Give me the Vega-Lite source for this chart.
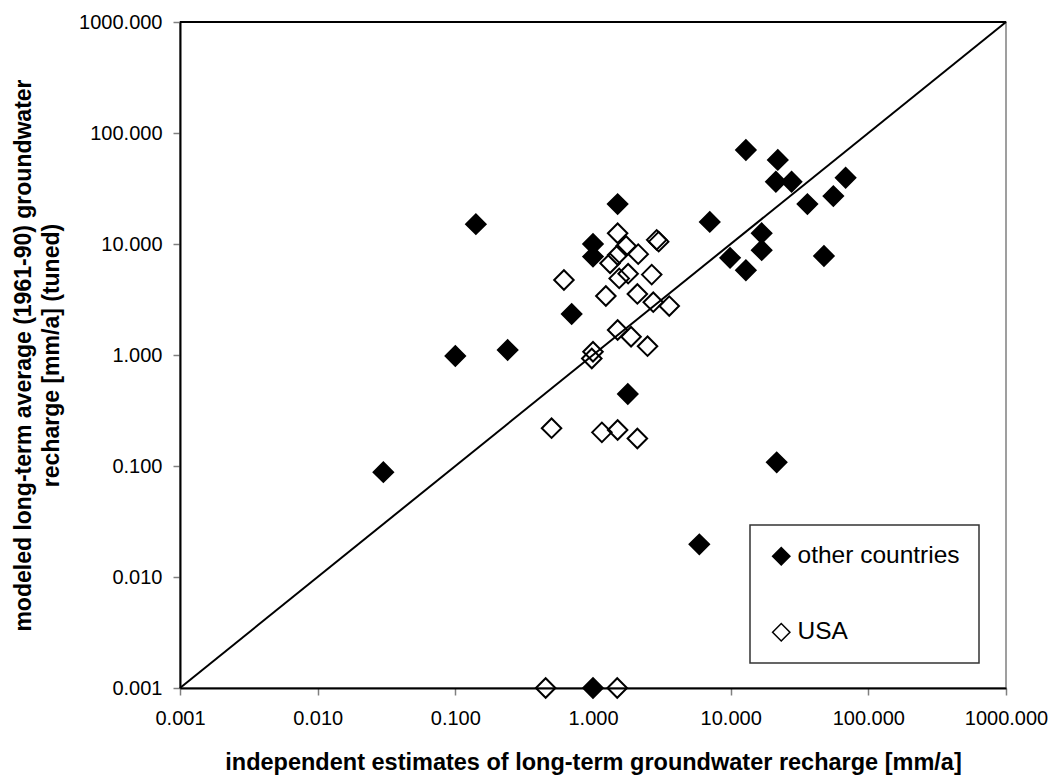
{
  "$schema": "https://vega.github.io/schema/vega-lite/v6.json",
  "width": 826,
  "height": 666,
  "autosize": {"type": "none"},
  "padding": {"left": 180, "top": 22, "right": 50, "bottom": 88},
  "background": "white",
  "config": {
    "font": "Liberation Sans",
    "view": {"stroke": "#808080", "strokeWidth": 1.5},
    "axis": {
      "grid": false,
      "domainColor": "black",
      "domainWidth": 2,
      "tickColor": "#808080",
      "tickWidth": 1.5,
      "tickSize": 7,
      "labelFlush": false,
      "labelOverlap": false,
      "labelFont": "Liberation Sans",
      "labelFontSize": 20,
      "labelColor": "black",
      "titleFont": "Liberation Sans",
      "titleFontSize": 23,
      "titleFontWeight": "bold",
      "titleColor": "black"
    },
    "legend": {
      "orient": "none",
      "legendX": 570,
      "legendY": 503,
      "strokeColor": "#333333",
      "strokeWidth": 1.5,
      "fillColor": "white",
      "padding": 19,
      "rowPadding": 51,
      "symbolType": "diamond",
      "symbolSize": 300,
      "symbolStrokeColor": "black",
      "symbolStrokeWidth": 1.5,
      "symbolOpacity": 1,
      "labelFont": "Liberation Sans",
      "labelFontSize": 24.5,
      "labelColor": "black",
      "labelLimit": 400,
      "labelOffset": 4
    }
  },
  "layer": [
    {
      "data": {
        "values": [
          {"x": 0.030, "y": 0.088, "group": "other countries"},
          {"x": 0.10, "y": 0.98, "group": "other countries"},
          {"x": 0.141, "y": 15.1, "group": "other countries"},
          {"x": 0.24, "y": 1.11, "group": "other countries"},
          {"x": 0.70, "y": 2.34, "group": "other countries"},
          {"x": 1.0, "y": 10.0, "group": "other countries"},
          {"x": 1.0, "y": 7.7, "group": "other countries"},
          {"x": 1.51, "y": 22.9, "group": "other countries"},
          {"x": 1.79, "y": 0.445, "group": "other countries"},
          {"x": 1.0, "y": 0.001, "group": "other countries"},
          {"x": 5.92, "y": 0.0197, "group": "other countries"},
          {"x": 7.05, "y": 15.8, "group": "other countries"},
          {"x": 9.9, "y": 7.5, "group": "other countries"},
          {"x": 12.9, "y": 70.3, "group": "other countries"},
          {"x": 12.9, "y": 5.8, "group": "other countries"},
          {"x": 16.8, "y": 12.5, "group": "other countries"},
          {"x": 16.8, "y": 8.8, "group": "other countries"},
          {"x": 21.3, "y": 36.4, "group": "other countries"},
          {"x": 22.0, "y": 57.2, "group": "other countries"},
          {"x": 21.6, "y": 0.108, "group": "other countries"},
          {"x": 27.7, "y": 36.4, "group": "other countries"},
          {"x": 36.1, "y": 22.9, "group": "other countries"},
          {"x": 47.6, "y": 7.8, "group": "other countries"},
          {"x": 55.7, "y": 27.0, "group": "other countries"},
          {"x": 68.4, "y": 39.5, "group": "other countries"},
          {"x": 0.453, "y": 0.001, "group": "USA"},
          {"x": 1.5, "y": 0.001, "group": "USA"},
          {"x": 0.50, "y": 0.219, "group": "USA"},
          {"x": 1.16, "y": 0.201, "group": "USA"},
          {"x": 1.51, "y": 0.211, "group": "USA"},
          {"x": 2.10, "y": 0.177, "group": "USA"},
          {"x": 1.0, "y": 1.07, "group": "USA"},
          {"x": 0.98, "y": 0.93, "group": "USA"},
          {"x": 1.51, "y": 1.68, "group": "USA"},
          {"x": 1.89, "y": 1.46, "group": "USA"},
          {"x": 2.49, "y": 1.20, "group": "USA"},
          {"x": 0.615, "y": 4.74, "group": "USA"},
          {"x": 1.24, "y": 3.4, "group": "USA"},
          {"x": 2.10, "y": 3.55, "group": "USA"},
          {"x": 2.74, "y": 2.99, "group": "USA"},
          {"x": 3.58, "y": 2.76, "group": "USA"},
          {"x": 1.55, "y": 4.9, "group": "USA"},
          {"x": 1.80, "y": 5.4, "group": "USA"},
          {"x": 2.67, "y": 5.3, "group": "USA"},
          {"x": 1.33, "y": 6.7, "group": "USA"},
          {"x": 1.51, "y": 7.96, "group": "USA"},
          {"x": 2.13, "y": 8.1, "group": "USA"},
          {"x": 1.74, "y": 9.6, "group": "USA"},
          {"x": 1.51, "y": 12.5, "group": "USA"},
          {"x": 2.9, "y": 10.9, "group": "USA"},
          {"x": 3.0, "y": 10.5, "group": "USA"}
        ]
      },
      "mark": {"type": "point", "shape": "diamond", "filled": true, "size": 380, "stroke": "black", "strokeWidth": 2, "opacity": 1},
      "encoding": {
        "x": {
          "field": "x", "type": "quantitative",
          "scale": {"type": "log", "domain": [0.001, 1000], "nice": false},
          "axis": {"values": [0.001, 0.01, 0.1, 1, 10, 100, 1000], "format": ".3f", "labelPadding": 13, "titlePadding": 22, "titleFontSize": 23.5,
                   "title": "independent estimates of long-term groundwater recharge [mm/a]"}
        },
        "y": {
          "field": "y", "type": "quantitative",
          "scale": {"type": "log", "domain": [0.001, 1000], "nice": false},
          "axis": {"values": [0.001, 0.01, 0.1, 1, 10, 100, 1000], "format": ".3f", "labelPadding": 11, "titlePadding": 15, "titleLineHeight": 28,
                   "title": ["modeled long-term average (1961-90) groundwater", "recharge [mm/a] (tuned)"]}
        },
        "fill": {
          "field": "group", "type": "nominal",
          "scale": {"domain": ["other countries", "USA"], "range": ["black", "transparent"]},
          "legend": {"title": null}
        }
      }
    },
    {
      "data": {"values": [{"x": 0.001, "y": 0.001}, {"x": 1000, "y": 1000}]},
      "mark": {"type": "line", "color": "black", "strokeWidth": 2},
      "encoding": {
        "x": {"field": "x", "type": "quantitative"},
        "y": {"field": "y", "type": "quantitative"}
      }
    },
    {
      "data": {"values": [{}]},
      "mark": {"type": "rule", "color": "black", "strokeWidth": 2},
      "encoding": {"y": {"datum": 1000}}
    }
  ]
}
